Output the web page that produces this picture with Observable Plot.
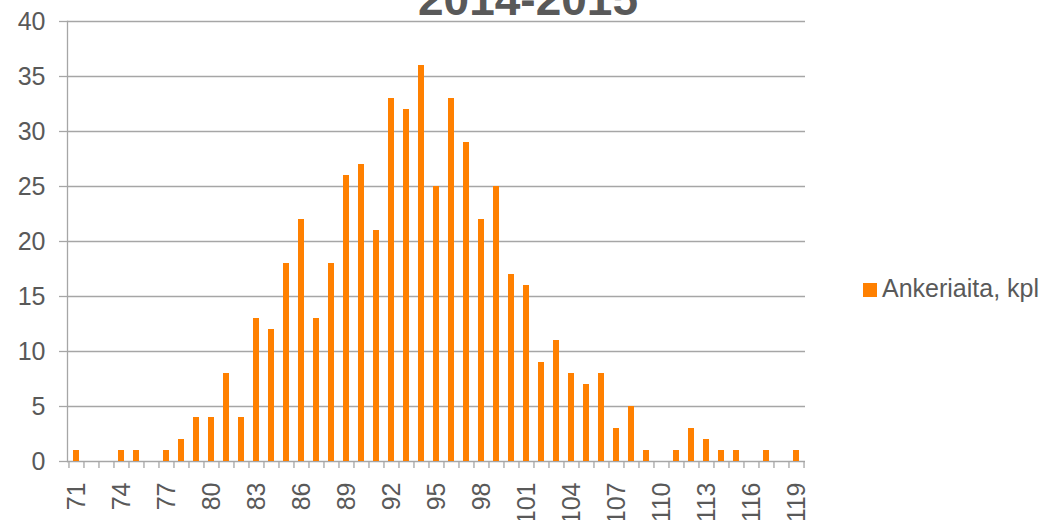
<!DOCTYPE html>
<html>
<head>
<meta charset="utf-8">
<script src="https://cdn.jsdelivr.net/npm/d3@7"></script>
<script src="https://cdn.jsdelivr.net/npm/@observablehq/plot@0.6"></script>
<style>
  html, body { margin: 0; padding: 0; background: #fff; overflow: hidden; }
  #wrap { position: relative; width: 1051px; height: 520px; font-family: "Liberation Sans", Arial, sans-serif; }
  #title { position: absolute; left: 0; width: 1056px; top: -24px; text-align: center; font-weight: bold; font-size: 46px; line-height: 46px; color: #595959; }
  #legend { position: absolute; left: 863px; top: 276px; font-size: 25px; line-height: 25px; color: #595959; display: flex; align-items: center; }
  #legend .sw { width: 14px; height: 14px; background: #FF8000; margin-right: 5px; margin-top: 3px; }
</style>
</head>
<body>
<div id="wrap">
  <div id="chart"></div>
  <div id="title">2014-2015</div>
  <div id="legend"><span class="sw"></span><span>Ankeriaita, kpl</span></div>
</div>
<script>
const categories = [71,72,73,74,75,76,77,78,79,80,81,82,83,84,85,86,87,88,89,90,91,92,93,94,95,96,97,98,99,100,101,102,103,104,105,106,107,108,109,110,111,112,113,114,115,116,117,118,119];
const counts = [1,0,0,1,1,0,1,2,4,4,8,4,13,12,18,22,13,18,26,27,21,33,32,36,25,33,29,22,25,17,16,9,11,8,7,8,3,5,1,0,1,3,2,1,1,0,1,0,1];
const xTickLabels = [71,74,77,80,83,86,89,92,95,98,101,104,107,110,113,116,119];
const yTicks = [0,5,10,15,20,25,30,35,40];
const seriesName = "Ankeriaita, kpl";

const data = categories.map((c, i) => ({length: c, count: counts[i]}));

const W = 1051, H = 520, mL = 67, mR = 246, mT = 21, mB = 59;
const step = (W - mL - mR) / categories.length;
const grey = "#a6a6a6";
const textCol = "#595959";

const chart = Plot.plot({
  width: W,
  height: H,
  marginLeft: mL,
  marginRight: mR,
  marginTop: mT,
  marginBottom: mB,
  style: {fontFamily: '"Liberation Sans", Arial, sans-serif', fontSize: "25px", color: textCol, background: "#fff"},
  x: {type: "band", domain: categories, paddingInner: 0.6, paddingOuter: 0.3, label: null},
  y: {domain: [0, 40], label: null},
  marks: [
    Plot.gridY(yTicks, {stroke: grey, strokeOpacity: 1, strokeWidth: 1.3}),
    Plot.frame({anchor: "left", stroke: grey, strokeWidth: 1.3}),
    Plot.rectY(data, {x: "length", y: "count", fill: "#FF8000"}),
    Plot.ruleX(categories, {x: d => d, y1: 0, y2: 0, dx: -step / 2, insetBottom: -7, stroke: grey, strokeWidth: 1.3}),
    Plot.ruleX(categories.slice(-1), {x: d => d, y1: 0, y2: 0, dx: step / 2, insetBottom: -7, stroke: grey, strokeWidth: 1.3}),
    Plot.axisY(yTicks, {tickSize: 8, tickPadding: 14, stroke: grey, strokeWidth: 1.3, fill: textCol, label: null}),
    Plot.axisX(xTickLabels, {tickSize: 0, tickPadding: 21, tickRotate: -90, fill: textCol, label: null})
  ]
});
document.getElementById("chart").appendChild(chart);
</script>
</body>
</html>
